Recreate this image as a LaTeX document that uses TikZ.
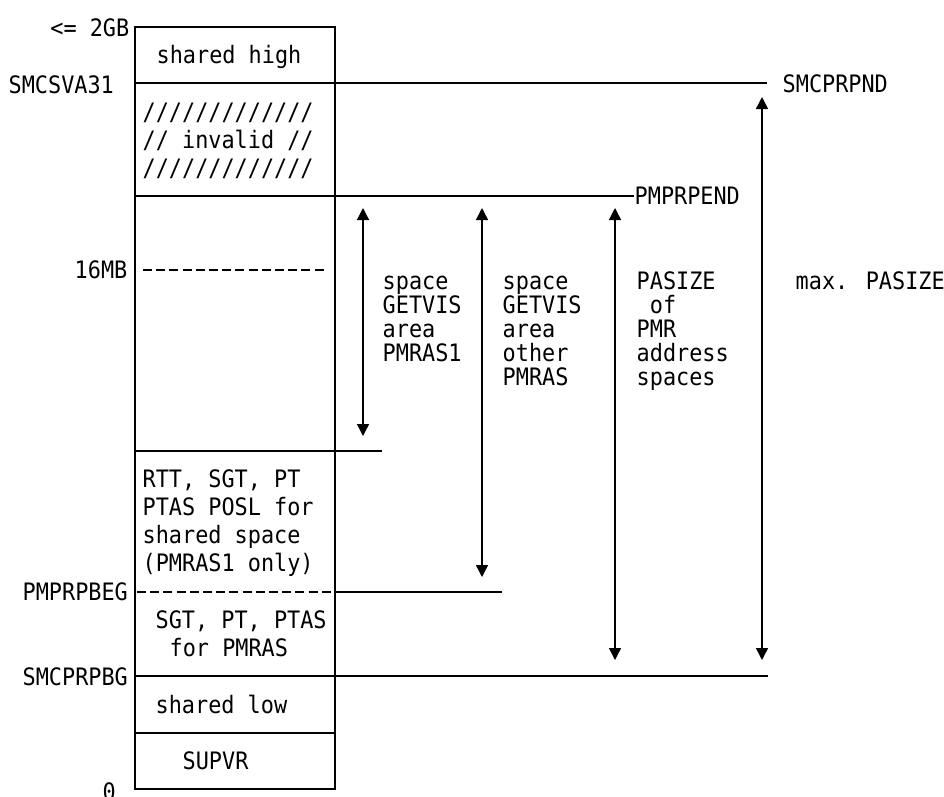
\documentclass[tikz,border=0pt]{standalone}
\usepackage{fontspec}
\newfontfamily\monofnt{DejaVu Sans Mono}[FakeStretch=0.91]
\usetikzlibrary{arrows.meta}

\begin{document}
\begin{tikzpicture}[x=1pt,y=-1pt,line width=1.4pt,
  txt/.style={inner sep=0pt,anchor=base west,font=\monofnt\fontsize{24}{28}\selectfont},
  lbl/.style={txt,anchor=base east},
  dashrow/.style={dash pattern=on 9pt off 4.2pt},
  span/.style={{Triangle[length=12pt,width=12pt]}-{Triangle[length=12pt,width=12pt]}}]
\clip (0,0) rectangle (944,796);
\fill[white] (0,0) rectangle (944,796);
% ================= storage column =================
\draw (135,27) rectangle (335,789);
\draw (135,83) -- (767,83);   % SMCSVA31
\draw (135,196) -- (634,196); % PMPRPEND
\draw (135,451) -- (382,451);
\draw (335,592) -- (502,592); % PMPRPBEG
\draw (135,676) -- (768,676); % SMCPRPBG
\draw (135,733) -- (335,733);
% dashed marks inside the column
\draw[dashrow] (143,270) -- (327,270);
\draw[dashrow] (137,592) -- (332,592);
% ================= left side labels =================
\node[lbl] (top) at (130,36) {<= 2GB};
\node[txt] (sva) at (8,93) {SMCSVA31};
\node[lbl] (mb16) at (128,278) {16MB};
\node[txt] (pbeg) at (22,600) {PMPRPBEG};
\node[txt] (pbg) at (22,685) {SMCPRPBG};
\node[txt] (zero) at (102,800) {0};
% ================= box contents =================
\node[txt] (high) at (156,63) {shared high};
\foreach \t [count=\i from 0] in {{/////////////},{// invalid //},{/////////////}}
  \node[txt] (inv\i) at (142,{120+28*\i}) {\t};
\foreach \t [count=\i from 0] in {{RTT, SGT, PT},{PTAS POSL for},{shared space},{(PMRAS1 only)}}
  \node[txt] (rtt\i) at (142,{487+28*\i}) {\t};
\node[txt] (sgt) at (155,628) {SGT, PT, PTAS};
\node[txt] (sgt2) at (169,656) {for PMRAS};
\node[txt] (low) at (155,713) {shared low};
\node[txt] (supvr) at (182,769) {SUPVR};
% ================= right side labels =================
\node[txt] (prpnd) at (782,92) {SMCPRPND};
\node[txt] (prpend) at (634,204) {PMPRPEND};
\foreach \t [count=\i from 0] in {space,GETVIS,area,PMRAS1}
  \node[txt] (one\i) at (382,{289+24*\i}) {\t};
\foreach \t [count=\i from 0] in {space,GETVIS,area,other,PMRAS}
  \node[txt] (oth\i) at (502,{289+24*\i}) {\t};
\foreach \t [count=\i from 0] in {PASIZE,{\ of},PMR,address,spaces}
  \node[txt] (pas\i) at (636,{289+24*\i}) {\t};
\node[txt] (maxpa) at (795,289) {max. PASIZE};
% ================= size arrows =================
\coordinate (a1t) at (363,208); \coordinate (a1b) at (363,436);
\coordinate (a2t) at (482,208); \coordinate (a2b) at (482,577);
\coordinate (a3t) at (615,208); \coordinate (a3b) at (615,660);
\coordinate (a4t) at (762,97);  \coordinate (a4b) at (762,660);
\draw[span] (a1t) -- (a1b);
\draw[span] (a2t) -- (a2b);
\draw[span] (a3t) -- (a3b);
\draw[span] (a4t) -- (a4b);
\end{tikzpicture}
\end{document}
